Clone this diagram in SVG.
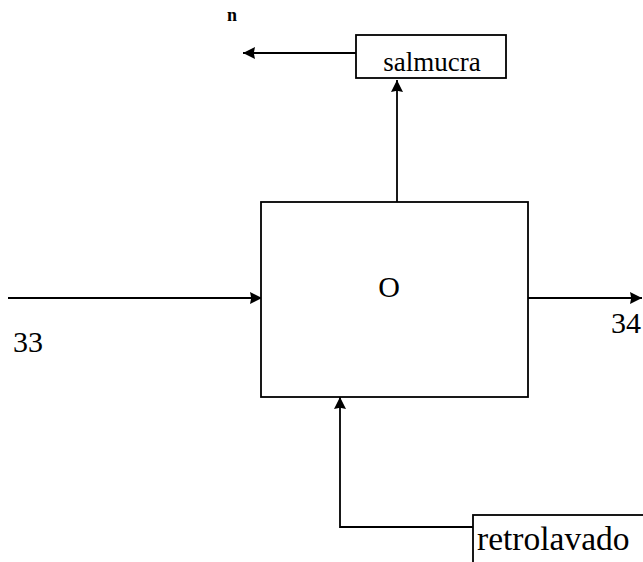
<svg xmlns="http://www.w3.org/2000/svg" width="643" height="562" viewBox="0 0 643 562">
<style>
.ln{stroke:#000;stroke-width:1.8;fill:none}
.bx{stroke:#000;stroke-width:1.8;fill:#fff}
text{font-family:'Liberation Serif','DejaVu Serif','Times New Roman',serif;fill:#000}
</style>
<defs>
<marker id="ah" viewBox="0 0 10 10" refX="10" refY="5" markerWidth="12" markerHeight="12" markerUnits="userSpaceOnUse" orient="auto">
<path d="M0,0 L10,5 L0,10 L1,5 Z" fill="#000"/>
</marker>
</defs>
<rect width="643" height="562" fill="#fff"/>
<g id="connectors">
<line class="ln" x1="8" y1="298" x2="262" y2="298" marker-end="url(#ah)"/>
<line class="ln" x1="528" y1="298" x2="642" y2="298" marker-end="url(#ah)"/>
<line class="ln" x1="397" y1="202" x2="397" y2="80" marker-end="url(#ah)"/>
<line class="ln" x1="356" y1="53" x2="243" y2="53" marker-end="url(#ah)"/>
<polyline class="ln" points="473,527 340,527 340,397" marker-end="url(#ah)"/>
</g>
<g id="node-O">
<rect class="bx" x="261" y="202" width="267" height="195"/>
<text x="389" y="297" font-size="30" text-anchor="middle">O</text>
</g>
<g id="node-salmuera">
<rect class="bx" x="356" y="35" width="150" height="43"/>
<text x="432" y="71" font-size="27" text-anchor="middle">salmucra</text>
</g>
<g id="node-retrolavado">
<rect class="bx" x="473" y="515" width="175" height="50"/>
<text x="477" y="550" font-size="33.5">retrolavado</text>
</g>
<g id="labels">
<text x="227" y="21" font-size="18" font-weight="bold">n</text>
<text x="13" y="352" font-size="30">33</text>
<text x="611" y="333" font-size="30">34</text>
</g>
</svg>
